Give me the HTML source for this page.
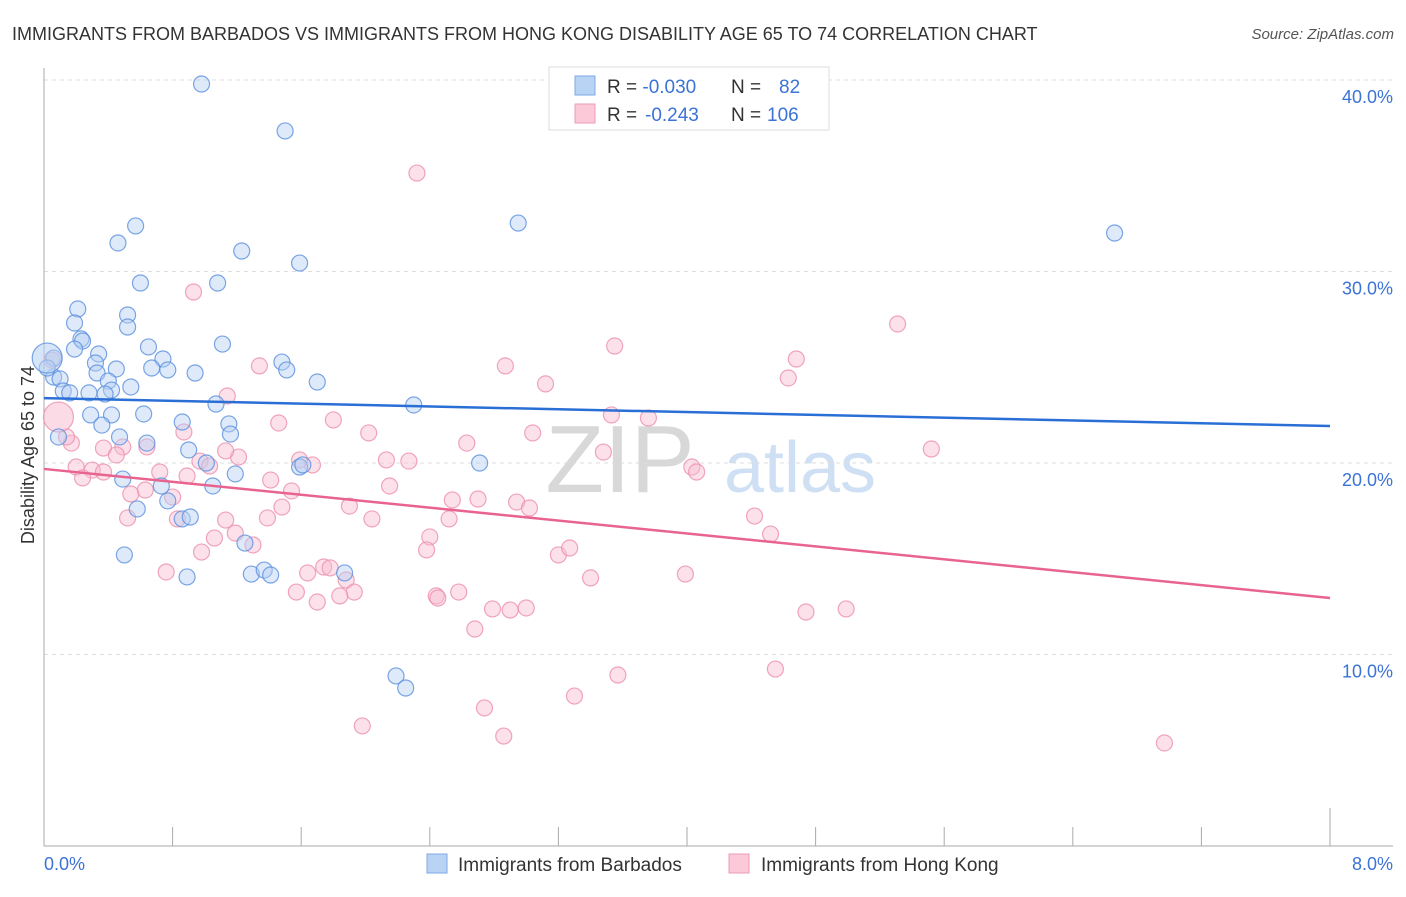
<!DOCTYPE html>
<html><head><meta charset="utf-8"><style>
body{margin:0;background:#fff;font-family:"Liberation Sans",sans-serif;}
svg text{font-family:"Liberation Sans",sans-serif;}
</style></head><body>
<svg id="chart" width="1406" height="892" viewBox="0 0 1406 892">
<text x="12" y="40" font-size="18" fill="#333">IMMIGRANTS FROM BARBADOS VS IMMIGRANTS FROM HONG KONG DISABILITY AGE 65 TO 74 CORRELATION CHART</text>
<text x="1394" y="39" font-size="15" fill="#555" font-style="italic" text-anchor="end">Source: ZipAtlas.com</text>
<text x="620" y="492" font-size="96" fill="#d8d8d8" font-family="Liberation Serif" text-anchor="middle">ZIP</text>
<text x="800" y="492" font-size="72" fill="#cfe0f4" text-anchor="middle">atlas</text>
<g id="grid"></g>
<g id="axes"></g>
<g id="pts"></g>
<g id="trends"></g>
<text transform="translate(34,455) rotate(-90)" font-size="18" fill="#333" text-anchor="middle">Disability Age 65 to 74</text>
<text x="44" y="870" font-size="18" fill="#3b73d6">0.0%</text>
<text x="1393" y="870" font-size="18" fill="#3b73d6" text-anchor="end">8.0%</text>
<g>
<rect x="549" y="67" width="280" height="63" fill="#fff" stroke="#ddd"/>
<rect x="575" y="76" width="20" height="19" fill="#b9d3f5" stroke="#7ea8e6"/>
<rect x="575" y="104" width="20" height="19" fill="#fbc9d8" stroke="#ee9bb5"/>
<text x="607" y="93" font-size="19" fill="#333">R = <tspan fill="#3b73d6">-0.030</tspan><tspan x="731">N =</tspan><tspan x="779" fill="#3b73d6">82</tspan></text>
<text x="607" y="121" font-size="19" fill="#333">R = <tspan x="645" fill="#3b73d6">-0.243</tspan><tspan x="731">N =</tspan><tspan x="767" fill="#3b73d6">106</tspan></text>
</g>
<g>
<rect x="427" y="854" width="20" height="19" fill="#b9d3f5" stroke="#7ea8e6"/>
<text x="458" y="871" font-size="19" fill="#333">Immigrants from Barbados</text>
<rect x="729" y="854" width="20" height="19" fill="#fbc9d8" stroke="#ee9bb5"/>
<text x="761" y="871" font-size="19" fill="#333">Immigrants from Hong Kong</text>
</g>
</svg>
<script>
const yTicks=[10,20,30,40];
const yTickLabels=["10.0%","20.0%","30.0%","40.0%"];
const xTicks=[0,0.8,1.6,2.4,3.2,4.0,4.8,5.6,6.4,7.2,8.0];
const barbadosX=[0.98,1.50,0.57,2.95,6.66,0.46,1.23,1.59,0.60,1.08,0.21,0.52,0.19,0.52,0.23,0.24,1.11,0.19,0.65,0.34,0.74,0.32,1.48,0.67,0.77,0.45,1.51,0.94,0.33,0.06,0.10,0.40,1.70,0.54,0.12,0.42,0.28,0.16,0.38,1.07,2.30,0.29,0.62,0.42,0.36,0.86,1.15,1.16,0.47,0.09,0.64,0.90,1.01,1.59,1.61,2.71,1.19,0.49,1.05,0.73,0.77,0.58,0.86,0.91,1.25,0.50,1.29,1.37,1.41,1.87,0.89,2.19,2.25,0.06,0.02,0.02];
const barbadosY=[39.79,37.34,32.38,32.53,32.01,31.49,31.07,30.44,29.40,29.40,28.04,27.73,27.31,27.10,26.48,26.37,26.21,25.95,26.06,25.69,25.43,25.22,25.27,24.96,24.86,24.91,24.86,24.70,24.70,24.49,24.39,24.28,24.23,23.97,23.76,23.81,23.66,23.66,23.60,23.08,23.03,22.51,22.56,22.51,21.98,22.14,22.04,21.51,21.36,21.36,21.04,20.68,20.00,19.79,19.90,20.00,19.43,19.16,18.80,18.80,18.02,17.60,17.08,17.18,15.82,15.20,14.20,14.41,14.15,14.26,14.05,8.88,8.25,25.48,24.96,25.48];
const barbadosBig=[75];
const hkX=[2.32,0.93,5.31,3.55,4.68,2.87,1.34,4.63,3.12,1.14,1.80,1.46,3.53,3.76,0.87,2.02,3.04,5.52,2.63,0.49,0.17,0.37,0.64,3.48,1.21,0.97,2.13,2.27,1.67,1.59,4.03,4.06,0.20,0.30,0.24,0.37,0.72,0.89,1.41,0.63,0.54,0.80,1.03,1.54,2.15,2.54,2.70,2.94,3.02,1.90,1.48,4.42,0.52,0.83,1.13,1.39,2.04,2.52,2.40,1.06,1.19,1.30,2.38,3.20,3.27,0.98,4.52,1.64,1.74,1.78,0.76,1.88,3.40,3.99,1.57,1.93,1.84,2.44,2.58,1.70,2.45,2.79,2.90,3.00,4.74,4.99,2.68,4.55,3.57,3.30,2.74,1.98,2.86,6.97,0.05,0.14,0.45,1.13,0.09];
const hkY=[35.14,28.93,27.26,26.11,25.43,25.07,25.07,24.44,24.13,23.50,22.25,22.09,22.51,22.35,21.62,21.57,21.57,20.73,21.04,20.84,21.04,20.78,20.84,20.57,20.31,20.10,20.16,20.10,19.90,20.16,19.79,19.53,19.79,19.63,19.22,19.53,19.53,19.32,19.11,18.59,18.38,18.22,19.84,18.54,18.80,18.07,18.12,17.96,17.65,17.75,17.70,17.23,17.13,17.08,17.02,17.13,17.08,17.08,16.14,16.08,16.34,15.72,15.46,15.20,15.56,15.35,16.29,14.26,14.57,14.52,14.31,13.89,14.00,14.20,13.26,13.26,13.06,13.06,13.26,12.74,12.95,12.38,12.32,12.43,12.22,12.38,11.33,9.24,8.93,7.83,7.21,6.27,5.74,5.38,25.38,21.36,20.42,20.63,22.40];
const hkBig=[98];
const barbadosTrend=[23.39,21.93];
const hkTrend=[19.69,12.95];

const NS="http://www.w3.org/2000/svg";
const X0=44,X1=1330,Y0=846,PXPER=19.15;
function sx(v){return X0+(X1-X0)*v/8;}
function sy(v){return Y0-v*PXPER;}
function mk(tag,attrs,parent){const e=document.createElementNS(NS,tag);for(const k in attrs)e.setAttribute(k,attrs[k]);parent.appendChild(e);return e;}
const grid=document.getElementById('grid'),axes=document.getElementById('axes'),pts=document.getElementById('pts'),tr=document.getElementById('trends');
yTicks.forEach((t,i)=>{
  const l=mk('line',{x1:X0,x2:1393,y1:sy(t),y2:sy(t),stroke:'#ddd','stroke-dasharray':'4,4'},grid);
  
  
  const tx=mk('text',{x:1393,y:sy(t)+23,'font-size':18,fill:'#3b73d6','text-anchor':'end'},grid);
  tx.textContent=yTickLabels[i];
  
  
});
const ya=mk('line',{x1:X0,x2:X0,y1:68,y2:Y0,stroke:'#aaa'},axes);


const xa=mk('line',{x1:X0,x2:1393,y1:Y0,y2:Y0,stroke:'#aaa'},axes);


xTicks.forEach((t,i)=>{
  const last=i===xTicks.length-1;
  const tk=mk('line',{x1:sx(t),x2:sx(t),y1:last?808:827,y2:Y0,stroke:'#aaa'},axes);
  
  
});
function drawSeries(xs,ys,big,fill,stroke,name){
  xs.forEach((x,i)=>{
    const b=big.includes(i);
    const c=mk('circle',{cx:sx(x),cy:sy(ys[i]),r:b?15:8,fill:fill,'fill-opacity':b?0.55:0.45,stroke:stroke,'stroke-width':1.2,'stroke-opacity':0.8},pts);
    
    
  });
}
drawSeries(hkX,hkY,hkBig,'#f8bdd0','#ec8eac','hongkong');
drawSeries(barbadosX,barbadosY,barbadosBig,'#b6d0f3','#5a8fdd','barbados');
const l1=mk('line',{x1:sx(0),y1:sy(barbadosTrend[0]),x2:sx(8),y2:sy(barbadosTrend[1]),stroke:'#2a6fd6','stroke-width':2.5},tr);


const l2=mk('line',{x1:sx(0),y1:sy(hkTrend[0]),x2:sx(8),y2:sy(hkTrend[1]),stroke:'#e8648f','stroke-width':2.5},tr);


</script>
</body></html>
